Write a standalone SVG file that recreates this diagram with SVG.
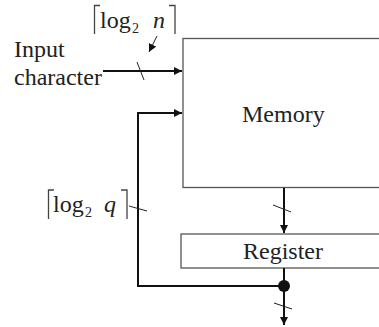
<svg xmlns="http://www.w3.org/2000/svg" width="379" height="327" viewBox="0 0 379 327">
<style>
.box{fill:#fff;stroke:#555;stroke-width:1.3}
.t{font-family:"Liberation Serif","Times New Roman",serif;font-size:24px;fill:#222}
.sub{font-family:"Liberation Serif","Times New Roman",serif;font-size:14px;fill:#222}
.it{font-style:italic}
.w{fill:none;stroke:#111;stroke-width:2}
.tick{fill:none;stroke:#222;stroke-width:1}
.br{fill:none;stroke:#444;stroke-width:1.3}
</style>
<defs>
<marker id="ah" markerUnits="userSpaceOnUse" markerWidth="9" markerHeight="8" refX="8" refY="4" orient="auto">
<path d="M0,0 L8,4 L0,8 Z" fill="#111"/>
</marker>
<marker id="ah2" markerUnits="userSpaceOnUse" markerWidth="9" markerHeight="8" refX="8" refY="4" orient="auto">
<path d="M0,0 L8,4 L0,8 Z" fill="#111"/>
</marker>
</defs>
<g id="memory">
<rect class="box" x="183" y="38.5" width="210" height="149"/>
<text class="t" x="242" y="122">Memory</text>
</g>
<g id="register">
<rect class="box" x="181" y="234" width="212" height="34"/>
<text class="t" x="243" y="259">Register</text>
</g>
<g id="input-label">
<text class="t" x="14" y="57">Input</text>
<text class="t" x="14" y="85">character</text>
</g>
<g id="label-n">
<path class="br" d="M100,5.5 H94.5 V34"/>
<text class="t" x="100" y="28">log</text>
<text class="sub" x="132" y="33">2</text>
<text class="t it" x="153" y="28">n</text>
<path class="br" d="M169,5.5 H175 V34"/>
<path class="tick" d="M157,36 L149,52" stroke-width="1.8" marker-end="url(#ah2)"/>
</g>
<g id="label-q">
<path class="br" d="M54,190 H48.5 V219"/>
<text class="t" x="53" y="212">log</text>
<text class="sub" x="85" y="217">2</text>
<text class="t it" x="104" y="212">q</text>
<path class="br" d="M121,190 H127 V219"/>
</g>
<g id="connectors">
<path class="w" d="M103,71 H182" marker-end="url(#ah)"/>
<path class="tick" d="M137,62 L144,80"/>
<path class="w" d="M284,286 H138 V113 H182" marker-end="url(#ah)"/>
<path class="tick" d="M129,206 L147,211"/>
<path class="w" d="M284,188 V233" marker-end="url(#ah)"/>
<path class="tick" d="M273,205 L291,212"/>
<path class="w" d="M284,268 V325" marker-end="url(#ah)"/>
<path class="tick" d="M274,303 L292,309"/>
<circle cx="284" cy="286" r="6" fill="#111"/>
</g>
</svg>
